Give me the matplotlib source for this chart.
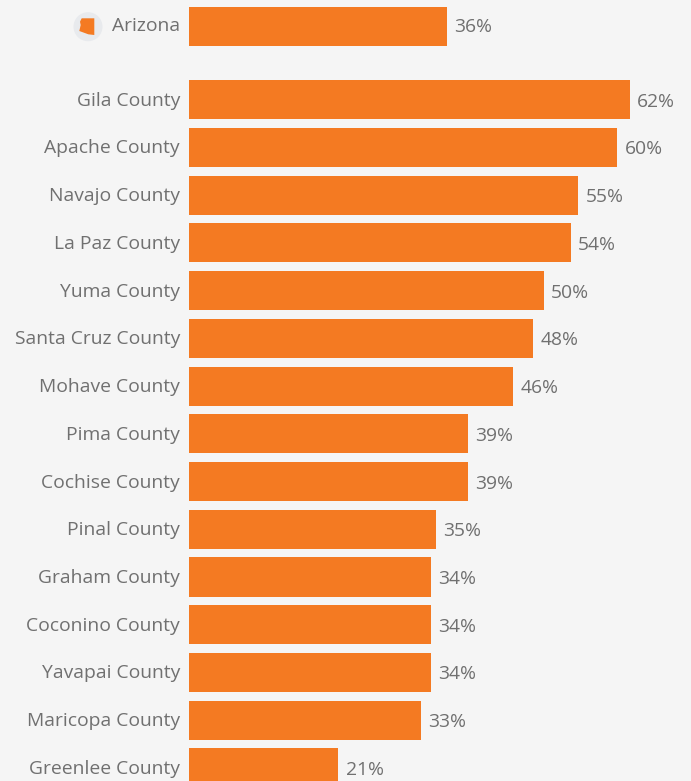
import matplotlib
matplotlib.use("Agg")
import matplotlib.pyplot as plt
from matplotlib.patches import Circle, Polygon
from matplotlib.transforms import ScaledTranslation

plt.rcParams['font.family'] = ['Open Sans', 'DejaVu Sans']

W, H = 691, 781
categories = ["Arizona", "Gila County", "Apache County", "Navajo County", "La Paz County",
              "Yuma County", "Santa Cruz County", "Mohave County", "Pima County",
              "Cochise County", "Pinal County", "Graham County", "Coconino County",
              "Yavapai County", "Maricopa County", "Greenlee County"]
values = [36.3, 62.0, 60.2, 54.7, 53.7, 49.9, 48.4, 45.6, 39.2, 39.2, 34.7, 34.0, 34.0, 34.0, 32.6, 21.0]
value_labels = ["36%", "62%", "60%", "55%", "54%", "50%", "48%", "46%", "39%", "39%",
                "35%", "34%", "34%", "34%", "33%", "21%"]
row_positions = [-1.53] + list(range(15))

BG = "#f5f5f5"; BAR = "#f47a22"; TXT = "#707070"
fig = plt.figure(figsize=(W/100, H/100), dpi=100, facecolor=BG)
ax = fig.add_axes([189/W, 0, (W-189)/W, 1], facecolor=BG)
ax.barh(row_positions, values, height=0.817, color=BAR, linewidth=0)
ax.set_xlim(0, (W-189)/7.11)
ax.set_ylim((781-99.6)/47.74, (0-99.6)/47.74)
for s in ax.spines.values():
    s.set_visible(False)
ax.set_xticks([])
ax.set_yticks(row_positions)
ax.set_yticklabels(categories, fontsize=13.9, color=TXT)
ax.tick_params(axis='y', length=0, pad=6.5)
for i, lab in enumerate(ax.get_yticklabels()):
    shift = 2.5 if i == 0 else 1
    lab.set_transform(lab.get_transform() + ScaledTranslation(0, shift/100, fig.dpi_scale_trans))
for i, (y, v, l) in enumerate(zip(row_positions, values, value_labels)):
    ax.annotate(l, (v, y), xytext=(7.5, 0 if i == 0 else -2), textcoords='offset pixels',
                va='center', ha='left', fontsize=13.9, color=TXT)

# state badge beside the Arizona label
icon = fig.add_axes([0, 0, 1, 1], facecolor='none')
icon.set_xlim(0, W); icon.set_ylim(H, 0); icon.axis('off')
icon.add_patch(Circle((88, 26.7), 14.5, color="#e8eaed", lw=0))
outline = [(81.7, 18.3), (94.3, 18.3), (94.3, 35), (88.3, 34.3), (79.3, 31), (80.7, 25), (80, 21.7)]
icon.add_patch(Polygon(outline, closed=True, color=BAR, lw=0))
fig.savefig("out.png", dpi=100, facecolor=BG)
